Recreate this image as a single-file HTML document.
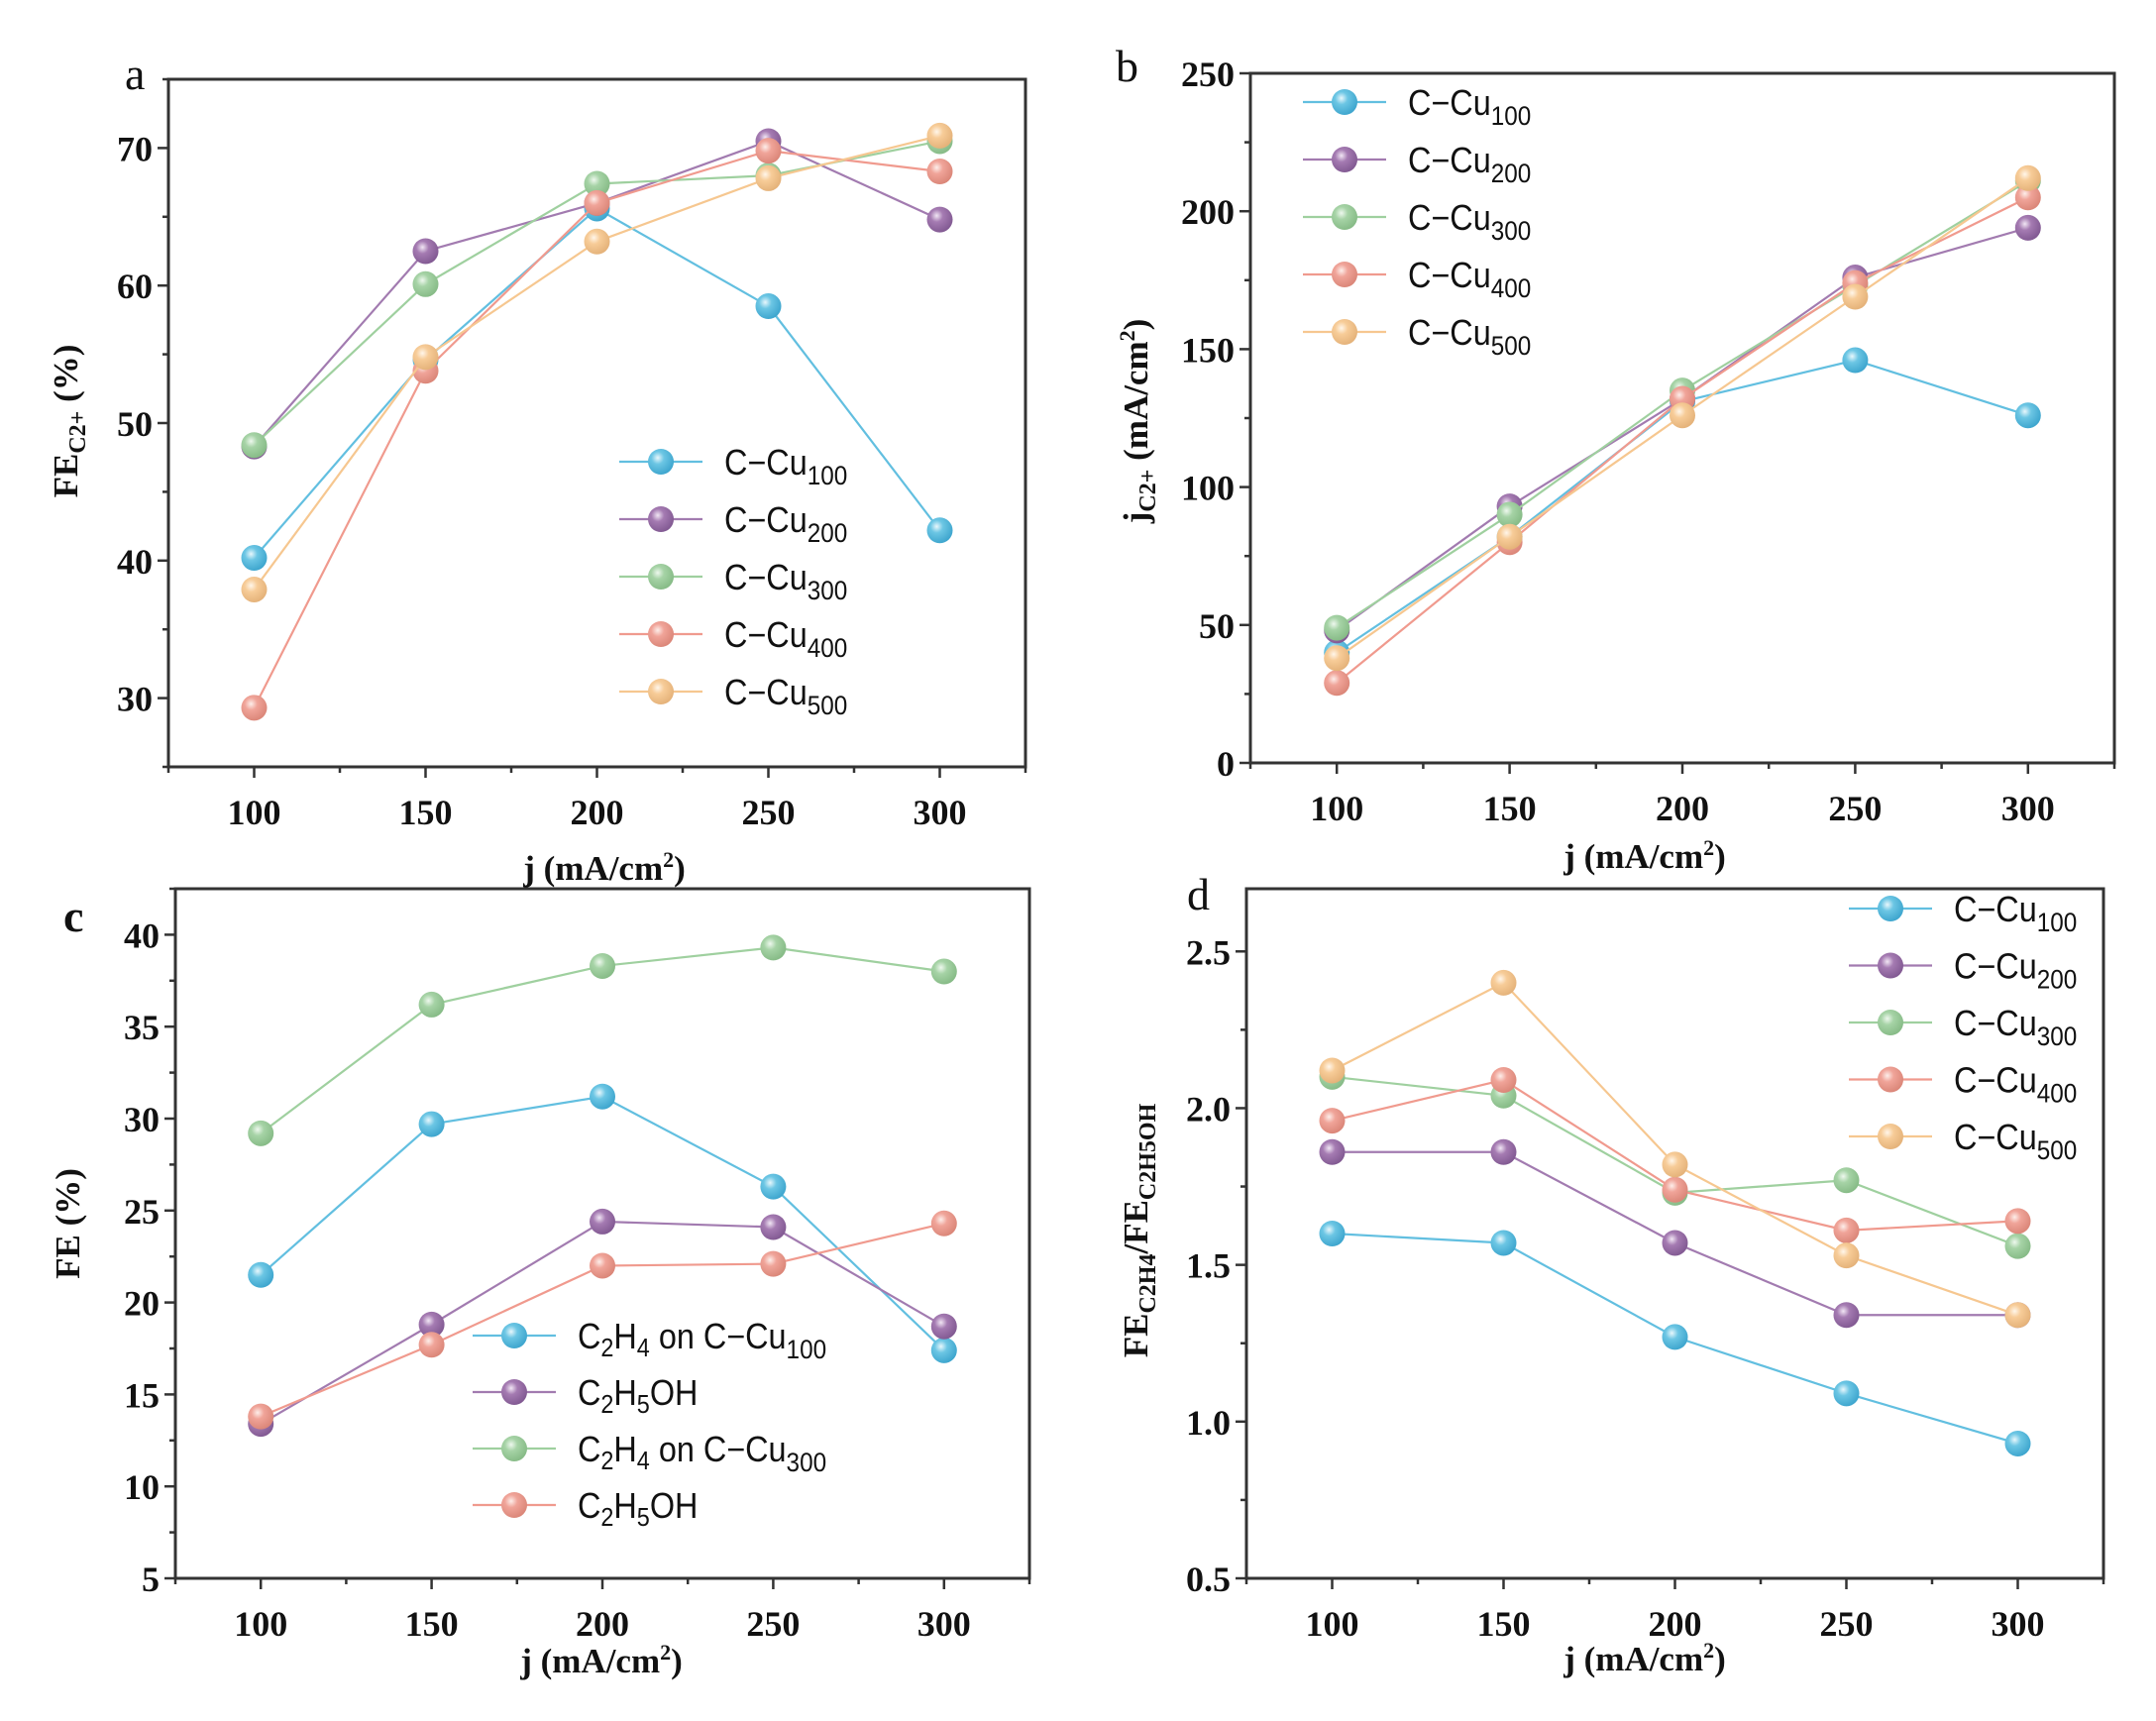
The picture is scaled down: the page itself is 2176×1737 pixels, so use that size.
<!DOCTYPE html>
<html><head><meta charset="utf-8">
<style>
html,body{margin:0;padding:0;background:#fff;}
svg{display:block;}
.tk{font-family:"Liberation Serif",serif;font-weight:bold;font-size:36px;fill:#111;}
.ttl{font-family:"Liberation Serif",serif;font-weight:bold;font-size:35px;fill:#111;}
.lg{font-family:"Liberation Sans Narrow","Liberation Sans",sans-serif;font-size:36px;fill:#111;}
.pl{font-family:"Liberation Serif",serif;font-size:46px;fill:#111;}
</style></head>
<body>
<svg id="fig" width="2176" height="1737" viewBox="0 0 2176 1737" xmlns="http://www.w3.org/2000/svg">
<defs>
<radialGradient id="g0" cx="0.38" cy="0.35" r="0.7"><stop offset="0" stop-color="#e8f7fc"/><stop offset="0.35" stop-color="#6cc6e4"/><stop offset="1" stop-color="#3aa3cc"/></radialGradient>
<radialGradient id="g1" cx="0.38" cy="0.35" r="0.7"><stop offset="0" stop-color="#f1e6f4"/><stop offset="0.35" stop-color="#a57bb2"/><stop offset="1" stop-color="#7f5790"/></radialGradient>
<radialGradient id="g2" cx="0.38" cy="0.35" r="0.7"><stop offset="0" stop-color="#eef8ee"/><stop offset="0.35" stop-color="#a6d3a6"/><stop offset="1" stop-color="#84b984"/></radialGradient>
<radialGradient id="g3" cx="0.38" cy="0.35" r="0.7"><stop offset="0" stop-color="#fdeeea"/><stop offset="0.35" stop-color="#f0a499"/><stop offset="1" stop-color="#d98476"/></radialGradient>
<radialGradient id="g4" cx="0.38" cy="0.35" r="0.7"><stop offset="0" stop-color="#fff6ea"/><stop offset="0.35" stop-color="#f7cc98"/><stop offset="1" stop-color="#e3b077"/></radialGradient>
</defs>
</svg>
<script>
// shared x categories
const xCats = [100, 150, 200, 250, 300];
const xTicks = [100, 150, 200, 250, 300];
const seriesNames = ["100", "200", "300", "400", "500"];
// panel a: FE C2+ (%)
const aC100 = [40.2, 54.6, 65.6, 58.5, 42.2];
const aC200 = [48.3, 62.5, 66.0, 70.5, 64.8];
const aC300 = [48.4, 60.1, 67.4, 68.0, 70.5];
const aC400 = [29.3, 53.8, 66.0, 69.8, 68.3];
const aC500 = [37.9, 54.8, 63.2, 67.8, 70.9];
const aYTicks = [30, 40, 50, 60, 70];
// panel b: j C2+ (mA/cm2)
const bC100 = [40, 82, 131, 146, 126];
const bC200 = [48, 93, 132, 176, 194];
const bC300 = [49, 90, 135, 173, 211];
const bC400 = [29, 80, 132, 174, 205];
const bC500 = [38, 82, 126, 169, 212];
const bYTicks = [0, 50, 100, 150, 200, 250];
// panel c: FE (%)
const cC2H4Cu100 = [21.5, 29.7, 31.2, 26.3, 17.4];
const cC2H5OHCu100 = [13.4, 18.8, 24.4, 24.1, 18.7];
const cC2H4Cu300 = [29.2, 36.2, 38.3, 39.3, 38.0];
const cC2H5OHCu300 = [13.8, 17.7, 22.0, 22.1, 24.3];
const cYTicks = [5, 10, 15, 20, 25, 30, 35, 40];
// panel d: FE C2H4 / FE C2H5OH
const dC100 = [1.60, 1.57, 1.27, 1.09, 0.93];
const dC200 = [1.86, 1.86, 1.57, 1.34, 1.34];
const dC300 = [2.10, 2.04, 1.73, 1.77, 1.56];
const dC400 = [1.96, 2.09, 1.74, 1.61, 1.64];
const dC500 = [2.12, 2.40, 1.82, 1.53, 1.34];
const dYTicks = [0.5, 1.0, 1.5, 2.0, 2.5];

const NS = "http://www.w3.org/2000/svg";
const svg = document.getElementById("fig");
const lineCols = ["#62bfe0", "#a27bb0", "#9fd09f", "#f09a8e", "#f6c790"];
function mk(tag, attrs, parent) {
  const e = document.createElementNS(NS, tag);
  for (const k in attrs) e.setAttribute(k, attrs[k]);
  (parent || svg).appendChild(e);
  return e;
}

function panel(o) {
  const g = mk("g", {});
  
  
  const sx = v => o.L + (v - o.x0) / (o.x1 - o.x0) * (o.R - o.L);
  const sy = v => o.B - (v - o.y0) / (o.y1 - o.y0) * (o.B - o.T);
  const fr = mk("rect", {x: o.L, y: o.T, width: o.R - o.L, height: o.B - o.T, fill: "none", stroke: "#333", "stroke-width": 3}, g);
  
  
  const xt = mk("g", {}, g);
  
  
  for (let v = o.x0; v <= o.x1 + 0.001; v += 25) {
    const major = xTicks.indexOf(v) >= 0;
    mk("line", {x1: sx(v), x2: sx(v), y1: o.B, y2: o.B + (major ? 11 : 6), stroke: "#333", "stroke-width": 2.5}, xt);
  }
  xTicks.forEach(v => {
    const t = mk("text", {x: sx(v), y: o.B + 58, "text-anchor": "middle", class: "tk"}, xt);
    t.textContent = v;
    
    
  });
  const yt = mk("g", {}, g);
  
  
  const step = o.yTicks[1] - o.yTicks[0];
  for (let v = o.yTicks[0] - step / 2; v <= o.y1 + 1e-6; v += step / 2) {
    if (v < o.y0 - 1e-6) continue;
    const major = o.yTicks.some(t => Math.abs(t - v) < 1e-6);
    mk("line", {x1: o.L, x2: o.L - (major ? 11 : 6), y1: sy(v), y2: sy(v), stroke: "#333", "stroke-width": 2.5}, yt);
  }
  o.yTicks.forEach(v => {
    const t = mk("text", {x: o.L - 16, y: sy(v) + 13, "text-anchor": "end", class: "tk"}, yt);
    t.textContent = o.fmt ? v.toFixed(1) : v;
    
    
  });
  o.series.forEach((s, i) => {
    const sg = mk("g", {}, g);
    
    
    const pts = s.vals.map((v, k) => sx(xCats[k]) + "," + sy(v)).join(" ");
    mk("polyline", {points: pts, fill: "none", stroke: lineCols[s.c], "stroke-width": 2.2}, sg);
    s.vals.forEach((v, k) => {
      const c = mk("circle", {cx: sx(xCats[k]), cy: sy(v), r: 13, fill: "url(#g" + s.c + ")"}, sg);
      
      
    });
  });
  const lg = mk("g", {}, g);
  
  
  o.series.forEach((s, i) => {
    const y = o.lgY + i * o.lgDy;
    const e = mk("g", {}, lg);
    
    
    mk("line", {x1: o.lgX - 42, x2: o.lgX + 42, y1: y, y2: y, stroke: lineCols[s.c], "stroke-width": 2.2}, e);
    mk("circle", {cx: o.lgX, cy: y, r: 13, fill: "url(#g" + s.c + ")"}, e);
    const t = mk("text", {x: 0, y: 0, class: "lg", transform: "translate(" + (o.lgX + 64) + "," + (y + 13) + ") scale(0.9,1)"}, e);
    t.innerHTML = s.label;
  });
  const xtl = mk("text", {x: o.xtX, y: o.xtY, "text-anchor": "middle", class: "ttl"}, g);
  xtl.innerHTML = o.xTitle;
  
  
  const ytl = mk("text", {x: 0, y: 0, "text-anchor": "middle", class: "ttl", transform: "translate(" + o.ytX + "," + o.ytY + ") rotate(-90)"}, g);
  ytl.innerHTML = o.yTitle;
  
  
  const pl = mk("text", {x: o.plX, y: o.plY, class: "pl", "font-weight": o.plBold ? "bold" : "normal"}, g);
  pl.textContent = o.letter;
  
  
}
const cu = n => 'C−Cu<tspan font-size="27" dy="10">' + n + '</tspan>';
const jx = 'j (mA/cm<tspan font-size="22" dy="-13">2</tspan><tspan dy="13">)</tspan>';

panel({name: "panel-a", letter: "a", plX: 126, plY: 90, L: 170, R: 1035, T: 80, B: 774, x0: 75, x1: 325, y0: 25, y1: 75, yTicks: aYTicks,
  series: [{key: "c-cu100", vals: aC100, c: 0, label: cu(seriesNames[0])}, {key: "c-cu200", vals: aC200, c: 1, label: cu(seriesNames[1])}, {key: "c-cu300", vals: aC300, c: 2, label: cu(seriesNames[2])}, {key: "c-cu400", vals: aC400, c: 3, label: cu(seriesNames[3])}, {key: "c-cu500", vals: aC500, c: 4, label: cu(seriesNames[4])}],
  lgX: 667, lgY: 466, lgDy: 58, xTitle: jx, xtX: 610, xtY: 888, yTitle: 'FE<tspan font-size="24" dy="8">C2+</tspan><tspan dy="-8"> (%)</tspan>', ytX: 78, ytY: 425});
panel({name: "panel-b", letter: "b", plX: 1126, plY: 82, L: 1262, R: 2134, T: 74, B: 770, x0: 75, x1: 325, y0: 0, y1: 250, yTicks: bYTicks,
  series: [{key: "c-cu100", vals: bC100, c: 0, label: cu(seriesNames[0])}, {key: "c-cu200", vals: bC200, c: 1, label: cu(seriesNames[1])}, {key: "c-cu300", vals: bC300, c: 2, label: cu(seriesNames[2])}, {key: "c-cu400", vals: bC400, c: 3, label: cu(seriesNames[3])}, {key: "c-cu500", vals: bC500, c: 4, label: cu(seriesNames[4])}],
  lgX: 1357, lgY: 103, lgDy: 58, xTitle: jx, xtX: 1660, xtY: 876, yTitle: 'j<tspan font-size="24" dy="8">C2+</tspan><tspan dy="-8"> (mA/cm</tspan><tspan font-size="22" dy="-13">2</tspan><tspan dy="13">)</tspan>', ytX: 1158, ytY: 425});
panel({name: "panel-c", letter: "c", plBold: true, plX: 64, plY: 940, L: 177, R: 1039, T: 897, B: 1593, x0: 75, x1: 325, y0: 5, y1: 42.5, yTicks: cYTicks,
  series: [{key: "c2h4-cu100", vals: cC2H4Cu100, c: 0, label: 'C<tspan font-size="26" dy="8">2</tspan><tspan dy="-8">H</tspan><tspan font-size="26" dy="8">4</tspan><tspan dy="-8"> on </tspan>' + cu("100")},
    {key: "c2h5oh-cu100", vals: cC2H5OHCu100, c: 1, label: 'C<tspan font-size="26" dy="8">2</tspan><tspan dy="-8">H</tspan><tspan font-size="26" dy="8">5</tspan><tspan dy="-8">OH</tspan>'},
    {key: "c2h4-cu300", vals: cC2H4Cu300, c: 2, label: 'C<tspan font-size="26" dy="8">2</tspan><tspan dy="-8">H</tspan><tspan font-size="26" dy="8">4</tspan><tspan dy="-8"> on </tspan>' + cu("300")},
    {key: "c2h5oh-cu300", vals: cC2H5OHCu300, c: 3, label: 'C<tspan font-size="26" dy="8">2</tspan><tspan dy="-8">H</tspan><tspan font-size="26" dy="8">5</tspan><tspan dy="-8">OH</tspan>'}],
  lgX: 519, lgY: 1348, lgDy: 57, xTitle: jx, xtX: 607, xtY: 1688, yTitle: 'FE (%)', ytX: 80, ytY: 1235});
panel({name: "panel-d", letter: "d", plX: 1198, plY: 918, L: 1258, R: 2123, T: 897, B: 1593, x0: 75, x1: 325, y0: 0.5, y1: 2.7, yTicks: dYTicks, fmt: true,
  series: [{key: "c-cu100", vals: dC100, c: 0, label: cu(seriesNames[0])}, {key: "c-cu200", vals: dC200, c: 1, label: cu(seriesNames[1])}, {key: "c-cu300", vals: dC300, c: 2, label: cu(seriesNames[2])}, {key: "c-cu400", vals: dC400, c: 3, label: cu(seriesNames[3])}, {key: "c-cu500", vals: dC500, c: 4, label: cu(seriesNames[4])}],
  lgX: 1908, lgY: 917, lgDy: 57.5, xTitle: jx, xtX: 1660, xtY: 1686, yTitle: 'FE<tspan font-size="24" dy="8">C2H4</tspan><tspan dy="-8">/FE</tspan><tspan font-size="24" dy="8">C2H5OH</tspan>', ytX: 1158, ytY: 1242});
</script>
</body></html>
